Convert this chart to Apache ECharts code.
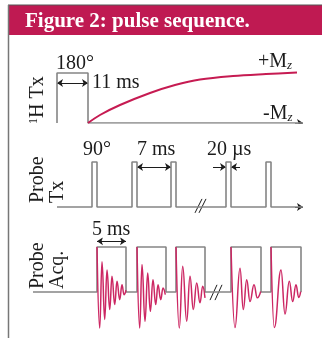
<!DOCTYPE html>
<html><head><meta charset="utf-8">
<script src="https://cdn.jsdelivr.net/npm/echarts@6/dist/echarts.min.js"></script>
<style>html,body{margin:0;padding:0;background:#fff}#c{width:322px;height:338px}</style>
</head><body><div id="c"></div>
<script>
// ---- schematic timing data (arbitrary time units, diagram is not to scale) ----
const hPulse = [24, 55];                 // 180° 1H pulse start / end
const hAxisEnd = 270;
const mzT = [55, 67, 87, 117, 142, 167, 200, 233, 264];            // Mz recovery curve
const mzV = [0, 0.16, 0.36, 0.6, 0.76, 0.87, 0.94, 0.98, 1.01];
const txStart = 24;
const txPulseStarts = [59, 99, 138, 193, 233];   // 90° probe pulses
const txPulseWidth = 5;
const txAxisEnd = 270;
const acqStart = 0;
const acqWindowStarts = [64, 104, 143, 198, 238];
const acqWindowEnds = [93, 133, 172, 228, 268];
// FID extrema (time from window start, amplitude)
const fid1T = [0, 2.7, 5, 7.7, 10, 12.7, 15, 17.7, 20, 22.7, 25, 27, 29];
const fid1V = [1, -0.8, 0.67, -0.61, 0.49, -0.39, 0.35, -0.28, 0.24, -0.17, 0.16, -0.06, 0.04];
const fid2T = [0, 2.7, 5, 8, 10.7, 13.3, 16, 18.7, 21, 23.7, 26, 28.3];
const fid2V = [1, -0.8, 0.61, -0.65, 0.42, -0.43, 0.27, -0.28, 0.16, -0.17, 0.09, -0.06];
const fid3T = [0, 3.3, 6.7, 10.7, 14, 17.3, 20.7, 24, 26.7, 29];
const fid3V = [1, -0.8, 0.57, -0.65, 0.35, -0.39, 0.2, -0.24, 0.13, -0.13];
const fid4T = [0, 4, 9, 12.3, 15.7, 19, 23, 26.3, 29.7];
const fid4V = [1, -0.79, 0.53, -0.39, 0.27, -0.21, 0.16, -0.13, 0.01];
const fid5T = [0, 3.3, 10, 14, 18.3, 21.7, 25, 27.7, 29.7];
const fid5V = [1, -0.79, 0.49, -0.49, 0.24, -0.21, 0.16, -0.12, 0.01];
// dimension markers [from, to, level]
const dim11ms = [24, 55, 0.8];
const dim7ms = [104, 138, 0.89];
const dim20usL = [180, 193, 0.89];
const dim20usR = [207, 198, 0.89];
const dim5ms = [64, 93, 1.13];
const txBreakX = [162, 166];  const txBreakDX = 7;  const txBreakY = [-0.13, 0.18];
const acqBreakX = [177, 182]; const acqBreakDX = 7; const acqBreakY = [-0.18, 0.16];

// ---- build ----
const GRAY = '#858585', PINK = '#cc2763', INK = '#1c1c1c';
const FONT = '"Liberation Serif", "DejaVu Serif", serif';

const hLine = [[hPulse[0], 0], [hPulse[0], 1], [hPulse[1], 1], [hPulse[1], 0], [hAxisEnd, 0]];
const txLine = [[txStart, 0]];
txPulseStarts.forEach(s => { txLine.push([s, 0], [s, 1], [s + txPulseWidth, 1], [s + txPulseWidth, 0]); });
txLine.push([txAxisEnd, 0]);
const acqLine = [[acqStart, 0]];
acqWindowStarts.forEach((s, i) => { acqLine.push([s, 0], [s, 1], [acqWindowEnds[i], 1], [acqWindowEnds[i], 0]); });
const fids = [[fid1T, fid1V], [fid2T, fid2V], [fid3T, fid3V], [fid4T, fid4V], [fid5T, fid5V]];

function seg(a, b, grid, syms) {
  return { type: 'lines', coordinateSystem: 'cartesian2d', xAxisIndex: grid, yAxisIndex: grid,
    symbol: syms, symbolSize: 6, silent: true,
    lineStyle: { color: INK, width: 1, opacity: 1, curveness: 0 },
    data: [{ coords: [a, b] }] };
}
function gline(data, grid, color, width, smooth, mono) {
  return { type: 'line', xAxisIndex: grid, yAxisIndex: grid, data, showSymbol: false, symbol: 'none',
    smooth: smooth || false, smoothMonotone: mono ? 'x' : undefined,
    lineStyle: { color, width }, silent: true };
}

const series = [
  gline(hLine, 0, GRAY, 1.6),
  seg([hAxisEnd - 8, 0], [hAxisEnd, 0], 0, ['none', 'arrow']),
  gline(mzT.map((t, i) => [t, mzV[i]]), 0, '#c61b52', 2, 0.35, false),
  seg([dim11ms[0], dim11ms[2]], [dim11ms[1], dim11ms[2]], 0, ['arrow', 'arrow']),
  gline(txLine, 1, GRAY, 1.6),
  seg([txAxisEnd - 8, 0], [txAxisEnd, 0], 1, ['none', 'arrow']),
  seg([dim7ms[0], dim7ms[2]], [dim7ms[1], dim7ms[2]], 1, ['arrow', 'arrow']),
  seg([dim20usL[0], dim20usL[2]], [dim20usL[1], dim20usL[2]], 1, ['none', 'arrow']),
  seg([dim20usR[0], dim20usR[2]], [dim20usR[1], dim20usR[2]], 1, ['none', 'arrow']),
  gline(acqLine, 2, GRAY, 1.6),
  seg([dim5ms[0], dim5ms[2]], [dim5ms[1], dim5ms[2]], 2, ['arrow', 'arrow'])
];
txBreakX.forEach(x => series.push(seg([x, txBreakY[0]], [x + txBreakDX, txBreakY[1]], 1, ['none', 'none'])));
acqBreakX.forEach(x => series.push(seg([x, acqBreakY[0]], [x + acqBreakDX, acqBreakY[1]], 2, ['none', 'none'])));
fids.forEach(([T, V], k) => {
  const s0 = acqWindowStarts[k];
  series.push(gline(T.map((t, i) => [s0 + t, V[i]]), 2, PINK, 1.5, 0.45, true));
});

function txt(x, y, text, extra) {
  return Object.assign({ type: 'text', x, y, silent: true,
    style: Object.assign({ text, font: '20px ' + FONT, fill: INK, align: 'left', verticalAlign: 'middle' }, extra || {}) });
}
const mzRich = { m: { fontSize: 20, fontFamily: FONT, color: INK }, z: { fontSize: 13, fontStyle: 'italic', fontFamily: FONT, color: INK, verticalAlign: 'bottom' } };

const option = {
  animation: false,
  backgroundColor: '#fff',
  grid: [
    { left: 33, right: 19, top: 63, bottom: 215 },
    { left: 33, right: 19, top: 153, bottom: 122 },
    { left: 33, right: 19, top: 238, bottom: 5.5 }
  ],
  xAxis: [0, 1, 2].map(i => ({ type: 'value', gridIndex: i, min: 0, max: 270, show: false })),
  yAxis: [
    { type: 'value', gridIndex: 0, min: 0, max: 1.2, show: false },
    { type: 'value', gridIndex: 1, min: -0.2, max: 1.2, show: false },
    { type: 'value', gridIndex: 2, min: -0.9, max: 1.2, show: false }
  ],
  series,
  graphic: [
    { type: 'rect', shape: { x: 8, y: 5, width: 314, height: 30 }, style: { fill: '#bf1a52' }, silent: true },
    { type: 'line', shape: { x1: 8, y1: 5, x2: 322, y2: 5 }, style: { stroke: '#555', lineWidth: 1 }, silent: true },
    { type: 'line', shape: { x1: 8.5, y1: 5, x2: 8.5, y2: 338 }, style: { stroke: '#777', lineWidth: 1.5 }, silent: true },
    txt(25, 22, 'Figure 2: pulse sequence.', { font: 'bold 21px ' + FONT, fill: '#fff' }),
    txt(56, 64, '180°'),
    txt(92, 83, '11 ms'),
    txt(258, 62, '', { text: '{m|+M}{z|z}', rich: mzRich }),
    txt(263, 114, '', { text: '{m|-M}{z|z}', rich: mzRich }),
    txt(83, 150, '90°'),
    txt(137, 150, '7 ms'),
    txt(207, 150, '20 µs'),
    txt(92, 230, '5 ms'),
    Object.assign(txt(38, 124, '', { text: '{s|1}{h|H Tx}', rich: { s: { fontSize: 12, fontFamily: FONT, color: INK, verticalAlign: 'top' }, h: { fontSize: 20, fontFamily: FONT, color: INK } } }), { rotation: Math.PI / 2 }),
    Object.assign(txt(48, 203, 'Probe\nTx', { lineHeight: 20 }), { rotation: Math.PI / 2 }),
    Object.assign(txt(48, 289, 'Probe\nAcq.', { lineHeight: 20 }), { rotation: Math.PI / 2 })
  ]
};
echarts.init(document.getElementById('c'), null, { renderer: 'canvas' }).setOption(option);
</script></body></html>
